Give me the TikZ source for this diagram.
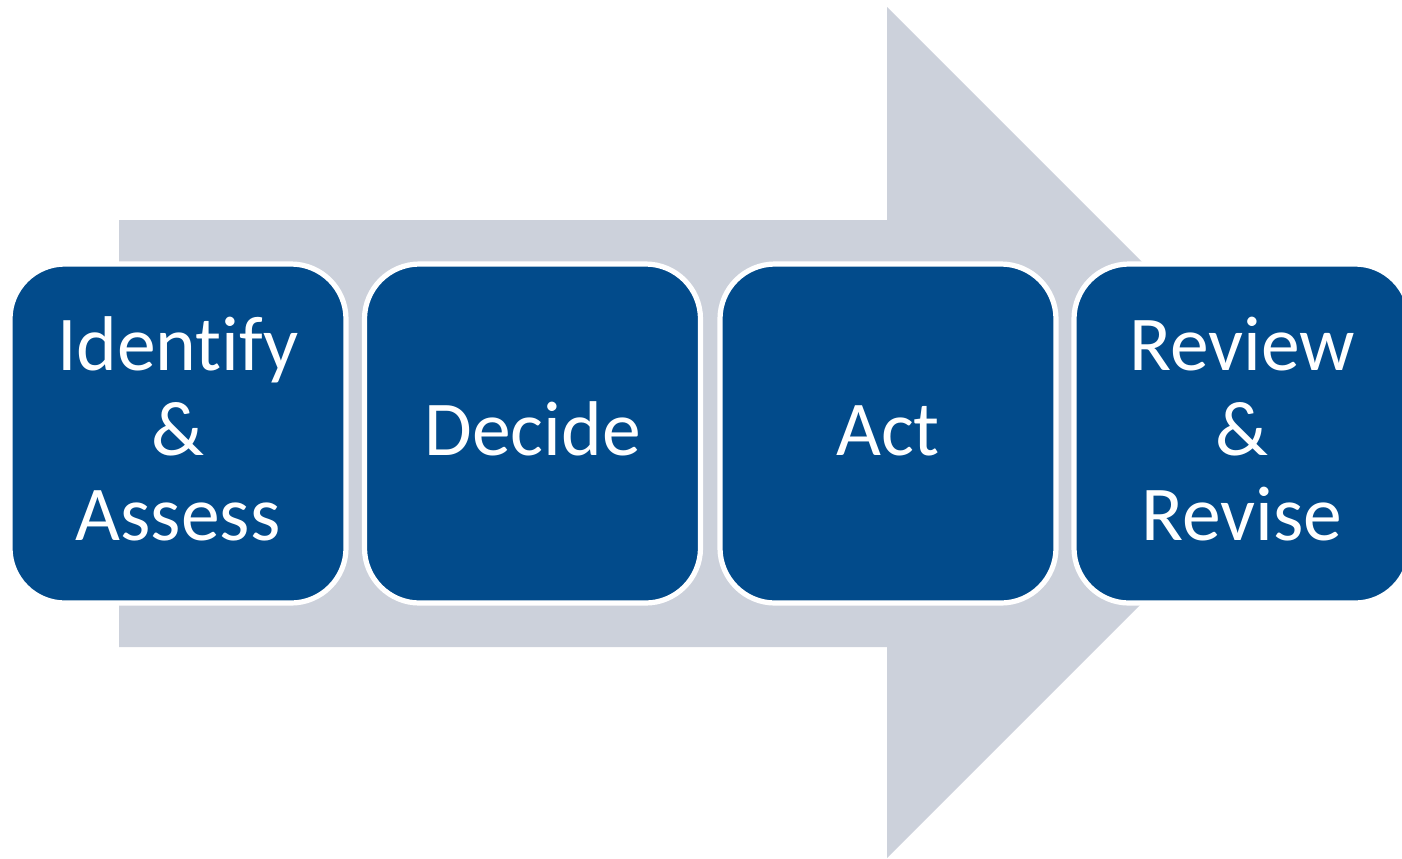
\documentclass[tikz,border=0pt]{standalone}
\usepackage{fontspec}
\setmainfont{Carlito}[RawFeature={-liga}]
\definecolor{stepblue}{RGB}{2,75,139}
\definecolor{flowgray}{RGB}{204,209,219}
\begin{document}
\begin{tikzpicture}[x=0.5pt,y=-0.5pt,
  stepbox/.style={fill=stepblue, draw=white, line width=2.6pt,
    rounded corners=27.5pt, minimum width=168pt, minimum height=169.5pt,
    inner sep=0pt, outer sep=0pt},
  steplabel/.style={text=white, font=\fontsize{38.8}{42.5}\selectfont,
    align=center, inner sep=0pt, anchor=base}]
\useasboundingbox (0,0) rectangle (1402,858);
% broad process arrow behind the steps
\fill[flowgray] (119,220) -- (887,220) -- (887,7) -- (1312.5,432.5)
  -- (887,858) -- (887,647) -- (119,647) -- cycle;
% the four steps
\node[stepbox] (s1) at (178,433.5) {};
\node[stepbox] (s2) at (532.5,433.5) {};
\node[stepbox] (s3) at (888,433.5) {};
\node[stepbox] (s4) at (1242,433.5) {};
% labels (multi-line labels sit on the baseline of their last line)
\node[steplabel] (t1) at (178,540) {Identify\\\&\\Assess};
\node[steplabel] (t2) at (532.5,455) {Decide};
\node[steplabel] (t3) at (888,455) {Act};
\node[steplabel] (t4) at (1242,540) {Review\\\&\\Revise};
\end{tikzpicture}
\end{document}
